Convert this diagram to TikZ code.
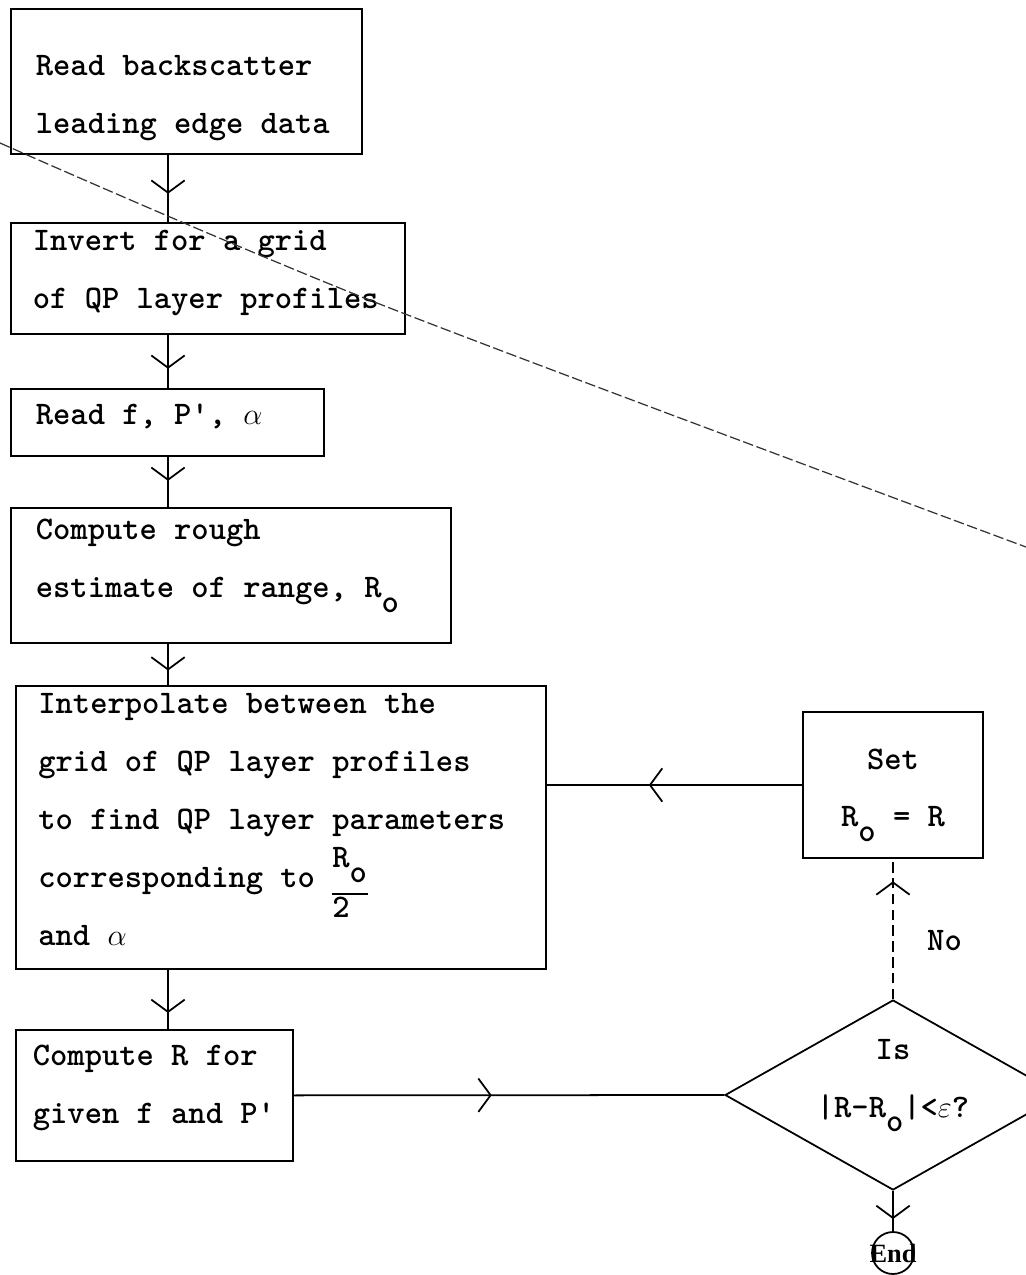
\documentclass[tikz,border=0pt]{standalone}
\usepackage{fontspec}
\setmainfont{lmmonolt10-bold.otf}[Ligatures=TeXOff]
\newfontfamily\endfont{Liberation Serif}
\usetikzlibrary{shapes.geometric,arrows.meta,decorations.markings}

% one unit = one dot of the sheet
\newcommand{\px}{0.02cm}
\newcommand{\Ro}{R\raisebox{-.45em}{o}}
\newcommand{\halfRo}{\smash{\rlap{\raisebox{11.5pt}{\Ro}}\rlap{\raisebox{-17pt}{2}}\raisebox{-4pt}{\rule{20.5pt}{0.8pt}}}}

\begin{document}
\begin{tikzpicture}[x=\px, y=-\px,
    typed/.style={font=\fontsize{18.74}{33}\selectfont, execute at begin node={\spaceskip=9.84pt\relax}},
    box/.style={typed, draw, line width=1pt, anchor=north west, align=left, inner sep=0pt},
    decision/.style={typed, draw, diamond, aspect=1.85, line width=1pt, inner sep=0pt, align=center,
        minimum width=336*\px, minimum height=190*\px},
    flow/.style={line width=1pt, postaction={decorate, decoration={markings,
        mark=at position #1 with {\arrow{Straight Barb[length=7pt, width=19pt, line width=1pt]}}}}},
    flow/.default=0.6]
    \useasboundingbox (0,0) rectangle (1026,1275);

    % main column
    \node[box, minimum width=351*\px, text width=6.02cm, text height=1.34cm, text depth=1.56cm] (read) at (10,8) {Read backscatter\\leading edge data};
    \node[box, minimum width=394*\px, text width=7.00cm, text height=0.56cm, text depth=1.66cm] (invert) at (10,222) {Invert for a grid\\of QP layer profiles};
    \node[box, minimum width=313*\px, text width=5.26cm, text height=0.72cm, text depth=0.62cm] (readf) at (10,388) {Read f, P', $\alpha$};
    \node[box, minimum width=440*\px, text width=7.80cm, text height=0.64cm, text depth=2.06cm] (rough) at (10,507) {Compute rough\\estimate of range, \Ro};
    \node[box, minimum width=530*\px, text width=9.70cm, text height=0.56cm, text depth=5.10cm] (interp) at (15,685) {Interpolate between the\\grid of QP layer profiles\\to find QP layer parameters\\corresponding to \halfRo\\and $\alpha$};
    \node[box, minimum width=277*\px, text width=4.86cm, text height=0.72cm, text depth=1.90cm] (calcR) at (15,1029) {Compute R for\\given f and P'};

    % loop on the right
    \node[box, anchor=center, align=center, text width=3.6cm, text height=1.14cm, text depth=1.78cm] (set) at (893,785) {Set\\\Ro{} = R};
    \node[decision, text width=3.6cm, text height=0cm, text depth=1.44cm] (test) at (893,1095) {Is\\|R-\Ro|<$\varepsilon$?};
    \node[circle, draw, line width=1pt, minimum size=42*\px, inner sep=0pt,
        font=\endfont\bfseries\fontsize{15}{15}\selectfont] (stop) at (893,1253) {\makebox[0pt]{End}};

    \coordinate (spine) at (168,0);
    \draw[flow=0.58] (read.south -| spine) -- (invert.north -| spine);
    \draw[flow=0.64] (invert.south -| spine) -- (readf.north -| spine);
    \draw[flow=0.48] (readf.south -| spine) -- (rough.north -| spine);
    \draw[flow=0.65] (rough.south -| spine) -- (interp.north -| spine);
    \draw[flow=0.73] (interp.south -| spine) -- (calcR.north -| spine);
    \draw[flow=0.46] (calcR.east) -- (test.west);
    \draw[flow=0.84, dash pattern=on 6pt off 3pt] (test.north) -- node[typed, pos=0.42, right=0.55cm] (no) {No} (set.south);
    \draw[flow=0.6] (set.west) -- (set.west -| interp.east);
    \draw[flow=0.7] (test.south) -- (stop.north);

    % fold across the sheet
    \draw[line width=0.7pt, dash pattern=on 6pt off 2pt, black!80] plot[smooth] coordinates {(0,143) (377,303) (1026,547)};
\end{tikzpicture}
\end{document}
